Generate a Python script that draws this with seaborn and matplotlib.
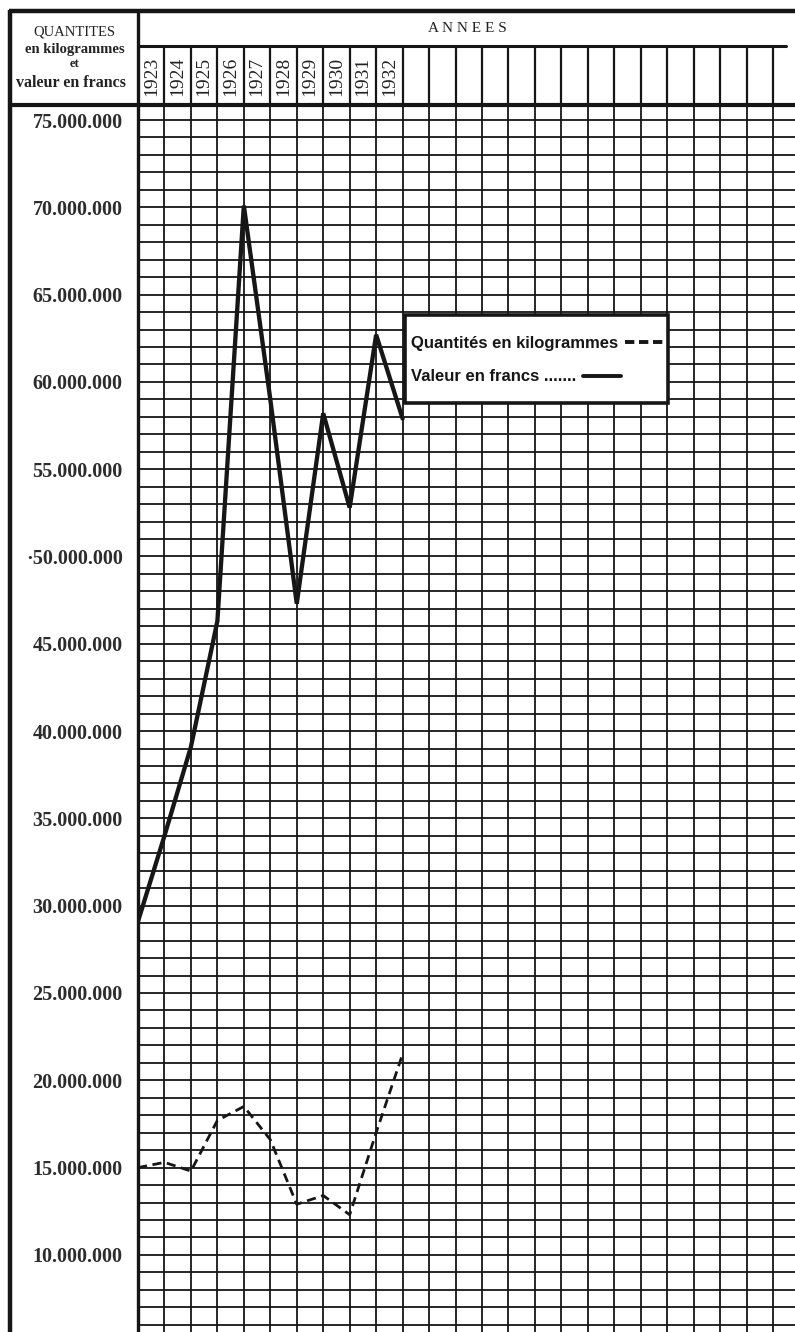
import numpy as np
import pandas as pd
import matplotlib
matplotlib.use("Agg")
import matplotlib.pyplot as plt
import seaborn as sns
from matplotlib.ticker import MultipleLocator
from matplotlib.lines import Line2D
from matplotlib.patches import Rectangle

# ---------------- data ----------------
years = ["1923", "1924", "1925", "1926", "1927", "1928", "1929", "1930", "1931", "1932"]
valeur_francs = [29.1e6, 34.0e6, 39.1e6, 46.3e6, 70.1e6, 59.0e6, 47.3e6, 58.2e6, 52.8e6, 62.7e6, 57.9e6]
quantites_kg = [15.0e6, 15.3e6, 14.8e6, 17.7e6, 18.5e6, 16.6e6, 12.9e6, 13.4e6, 12.3e6, 17.0e6, 21.5e6]
tick_values = [75e6, 70e6, 65e6, 60e6, 55e6, 50e6, 45e6, 40e6, 35e6, 30e6, 25e6, 20e6, 15e6, 10e6]
tick_labels = ["75.000.000", "70.000.000", "65.000.000", "60.000.000", "55.000.000",
               "·50.000.000", "45.000.000", "40.000.000", "35.000.000", "30.000.000",
               "25.000.000", "20.000.000", "15.000.000", "10.000.000"]
legend_labels = ["Quantités en kilogrammes", "Valeur en francs ......."]
header_left = ["QUANTITES", "en kilogrammes", "et", "valeur en francs"]
header_title = "A N N E E S"

# ---------------- style ----------------
sns.set_style("white")
plt.rcParams["font.family"] = ["Liberation Serif", "DejaVu Serif"]
INK = "#161616"

W, H = 795, 1332
fig = plt.figure(figsize=(W / 100, H / 100), dpi=100)
fig.patch.set_facecolor("white")

GRID_L, GRID_T = 138, 105
COL_W = 26.46          # pixels per column
PX_PER_M = 17.46       # pixels per million

ax = fig.add_axes([GRID_L / W, 0, (W - GRID_L) / W, (H - GRID_T) / H])
ax.set_facecolor("white")

df = pd.DataFrame({
    "step": np.arange(len(valeur_francs)),
    "valeur": valeur_francs,
    "quantites": quantites_kg,
})

sns.lineplot(data=df, x="step", y="valeur", ax=ax, color=INK, linewidth=3.1,
             zorder=5, solid_joinstyle="miter")
sns.lineplot(data=df, x="step", y="quantites", ax=ax, color=INK, linewidth=2.0,
             linestyle=(0, (3.3, 2.0)), zorder=5)

ax.set_xlim(0, (W - GRID_L) / COL_W)
top_val = 75e6 + (120 - GRID_T) / PX_PER_M * 1e6
bot_val = 75e6 - (H - 120) / PX_PER_M * 1e6
ax.set_ylim(bot_val, top_val)

ax.set_xticks(np.arange(0, 25))
ax.set_xticklabels([])
ax.yaxis.set_minor_locator(MultipleLocator(1e6))
ax.set_yticks(tick_values)
ax.set_yticklabels(tick_labels, fontsize=14.5, fontweight="bold", color="#2c2c2c")
ax.tick_params(axis="both", which="both", length=0)
ax.tick_params(axis="y", pad=11)
ax.grid(True, which="both", color=INK, linewidth=1.3)
ax.set_axisbelow(True)
ax.set_xlabel("")
ax.set_ylabel("")
for s in ax.spines.values():
    s.set_visible(False)

# ---------------- overlay in pixel coordinates ----------------
ov = fig.add_axes([0, 0, 1, 1], zorder=10)
ov.set_xlim(0, W)
ov.set_ylim(H, 0)
ov.axis("off")
ov.patch.set_alpha(0)

# legend box (white panel with heavy border) and legend content
box = Rectangle((405, 315), 263, 88, transform=ov.transData, facecolor="white",
                edgecolor=INK, linewidth=2.6, zorder=19, clip_on=False)
ax.add_patch(box)

handles = [Line2D([], [], color=INK, linewidth=2.8, linestyle=(0, (2.4, 1.2))),
           Line2D([], [], color=INK, linewidth=2.8)]
anchor = ax.transAxes.inverted().transform(ov.transData.transform((411, 336)))
leg = ax.legend(handles, legend_labels, loc="upper left",
                bbox_to_anchor=tuple(anchor),
                markerfirst=False, frameon=False, borderpad=0, labelspacing=1.1,
                handlelength=2.3, handletextpad=0.4, borderaxespad=0,
                prop={"family": ["Liberation Sans", "DejaVu Sans"], "size": 12,
                      "weight": "bold"})
leg._legend_handle_box.get_children()[0].align = "left"
leg.set_zorder(20)
for t in leg.get_texts():
    t.set_color(INK)

# ---------------- header (years) ----------------
hx = fig.add_axes([GRID_L / W, (H - GRID_T) / H, (W - GRID_L) / W, (GRID_T - 11) / H])
hx.set_xlim(ax.get_xlim())
hx.set_ylim(GRID_T, 11)
hx.axis("off")
hx.vlines(np.arange(1, 25), 46, GRID_T, color=INK, linewidth=1.6)
hx.plot([0, 24.5], [45.5, 45.5], color=INK, linewidth=2.2)
for i, yr in enumerate(years):
    hx.text(i + 0.5, 76, yr, rotation=90, ha="center", va="center",
            fontsize=14, color="#222")

# ---------------- frame & left header ----------------
ov.plot([9, W], [11, 11], color=INK, linewidth=3.2, solid_capstyle="butt")
ov.plot([10, 10], [10, H], color=INK, linewidth=3.2, solid_capstyle="butt")
ov.plot([10, W], [GRID_T, GRID_T], color=INK, linewidth=3.0, solid_capstyle="butt")
ov.plot([GRID_L, GRID_L], [11, H], color=INK, linewidth=2.4, solid_capstyle="butt")

ov.text(74, 32, header_left[0], ha="center", va="center", fontsize=10.5, color="#222")
ov.text(75, 50, header_left[1], ha="center", va="center", fontsize=10.5, fontweight="bold", color="#222")
ov.text(74, 64, header_left[2], ha="center", va="center", fontsize=9, fontweight="bold", color="#222")
ov.text(71, 83, header_left[3], ha="center", va="center", fontsize=11.5, fontweight="bold", color="#222")
ov.text(467, 28, header_title, ha="center", va="center", fontsize=11, color="#222")

fig.savefig("out.png", dpi=100, facecolor="white")
